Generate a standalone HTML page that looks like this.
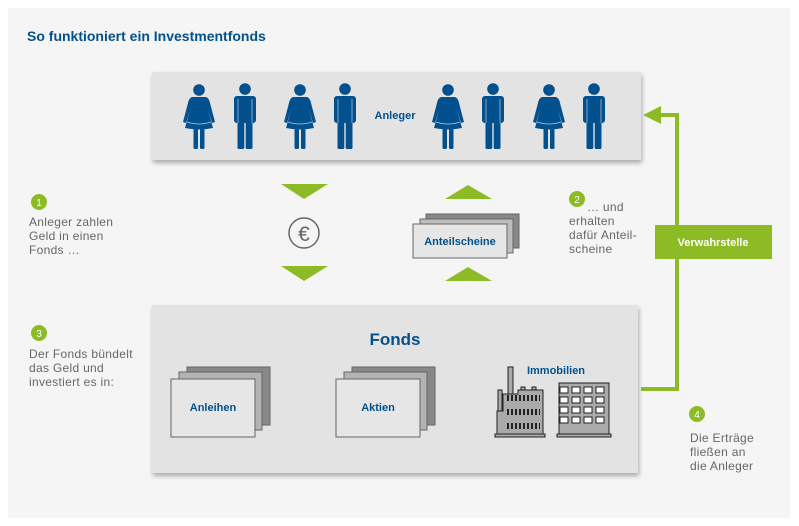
<!DOCTYPE html>
<html><head><meta charset="utf-8"><style>
body{margin:0;background:#fff;}
svg{display:block;font-family:"Liberation Sans",Arial,sans-serif;}
</style></head><body>
<svg width="799" height="526" viewBox="0 0 799 526" xmlns="http://www.w3.org/2000/svg">
<defs>
<filter id="sh" x="-5%" y="-10%" width="110%" height="125%"><feDropShadow dx="1" dy="3" stdDeviation="2.5" flood-color="#000" flood-opacity="0.3"/></filter>
<g id="w" fill="#03508f">
<circle cx="0" cy="90" r="5.8"/>
<path d="M-7 97 L7 97 Q10 98 11 103 L16 122 L13 123 L9 110 L14 128 Q0 131 -14 128 L-9 110 L-13 123 L-16 122 L-11 103 Q-10 98 -7 97Z"/>
<rect x="-5.5" y="127" width="4.5" height="22" rx="1.5"/><rect x="1" y="127" width="4.5" height="22" rx="1.5"/>
<path d="M-12 122 Q0 126 12 122" stroke="#b8c8dc" stroke-width="0.8" fill="none"/>
</g>
<g id="m" fill="#03508f">
<circle cx="0" cy="89" r="5.8"/>
<rect x="-11" y="96" width="22" height="27" rx="3"/>
<rect x="-7.5" y="120" width="6.8" height="29" rx="1.5"/><rect x="0.7" y="120" width="6.8" height="29" rx="1.5"/>
<path d="M-7 99 V123 M7 99 V123" stroke="#b8c8dc" stroke-width="0.7"/>
</g>
</defs>
<rect x="0" y="0" width="799" height="526" fill="#fff"/>
<rect x="8" y="8" width="782" height="510" fill="#f5f5f5"/>
<text x="27" y="41" font-size="14" font-weight="bold" fill="#03508f">So funktioniert ein Investmentfonds</text>

<rect x="152" y="72" width="489" height="88" fill="#e3e3e3" filter="url(#sh)"/>
<use href="#w" x="199"/><use href="#m" x="245"/><use href="#w" x="300"/><use href="#m" x="345"/>
<use href="#w" x="448"/><use href="#m" x="493"/><use href="#w" x="549"/><use href="#m" x="594"/>
<text x="395" y="119" font-size="11" font-weight="bold" fill="#03508f" text-anchor="middle">Anleger</text>

<g fill="#8cbb26">
<polygon points="281,184 328,184 304,199"/><polygon points="281,266 328,266 304,281"/>
<polygon points="445,199 492,199 468,185"/><polygon points="445,281 492,281 468,267"/>
</g>
<circle cx="304" cy="233" r="15" fill="none" stroke="#666" stroke-width="1.5"/>
<text x="304" y="241" font-size="21" fill="#666" text-anchor="middle">€</text>

<rect x="426" y="214" width="93" height="34" fill="#888" stroke="#666"/>
<rect x="420" y="219" width="93" height="34" fill="#bdbdbd" stroke="#666"/>
<rect x="413" y="224" width="94" height="34" fill="#e6e6e6" stroke="#666"/>
<text x="460" y="245" font-size="11" font-weight="bold" fill="#03508f" text-anchor="middle">Anteilscheine</text>

<g font-size="12" fill="#666" letter-spacing="0.3">
<circle cx="39" cy="202" r="8" fill="#8cbb26"/><text x="39" y="206" font-size="10" fill="#fff" text-anchor="middle" letter-spacing="0">1</text>
<text x="29" y="226">Anleger zahlen</text><text x="29" y="240">Geld in einen</text><text x="29" y="254">Fonds …</text>
<circle cx="39" cy="333" r="8" fill="#8cbb26"/><text x="39" y="337" font-size="10" fill="#fff" text-anchor="middle" letter-spacing="0">3</text>
<text x="29" y="358">Der Fonds bündelt</text><text x="29" y="372">das Geld und</text><text x="29" y="386">investiert es in:</text>
<circle cx="577" cy="199" r="8" fill="#8cbb26"/><text x="577" y="203" font-size="10" fill="#fff" text-anchor="middle" letter-spacing="0">2</text>
<text x="587" y="211">… und</text><text x="569" y="225">erhalten</text><text x="569" y="239">dafür Anteil-</text><text x="569" y="253">scheine</text>
<circle cx="697" cy="414" r="8" fill="#8cbb26"/><text x="697" y="418" font-size="10" fill="#fff" text-anchor="middle" letter-spacing="0">4</text>
<text x="690" y="442">Die Erträge</text><text x="690" y="456">fließen an</text><text x="690" y="470">die Anleger</text>
</g>

<rect x="152" y="305" width="486" height="168" fill="#e3e3e3" filter="url(#sh)"/>
<text x="395" y="345" font-size="17" font-weight="bold" fill="#03508f" text-anchor="middle">Fonds</text>
<rect x="187" y="367" width="83" height="58" fill="#888" stroke="#666"/>
<rect x="179" y="372" width="83" height="58" fill="#b3b3b3" stroke="#666"/>
<rect x="171" y="379" width="84" height="58" fill="#e6e6e6" stroke="#666"/>
<text x="213" y="411" font-size="11" font-weight="bold" fill="#03508f" text-anchor="middle">Anleihen</text>
<rect x="352" y="367" width="83" height="58" fill="#888" stroke="#666"/>
<rect x="344" y="372" width="83" height="58" fill="#b3b3b3" stroke="#666"/>
<rect x="336" y="379" width="84" height="58" fill="#e6e6e6" stroke="#666"/>
<text x="378" y="411" font-size="11" font-weight="bold" fill="#03508f" text-anchor="middle">Aktien</text>
<text x="556" y="374" font-size="11" font-weight="bold" fill="#03508f" text-anchor="middle">Immobilien</text>
<g stroke="#222" stroke-width="1" fill="#aaa">
<rect x="498" y="390" width="4" height="22"/>
<rect x="508" y="367" width="5" height="27"/>
<rect x="521" y="387" width="4" height="4"/><rect x="532" y="387" width="4" height="4"/>
<path d="M497 411 H503 V394 H518 V390 H543 V434 H497 Z"/>
<rect x="495" y="434" width="50" height="3"/>
<rect x="559" y="383" width="50" height="51"/>
<rect x="557" y="434" width="54" height="3"/>
</g>
<g fill="#fff" stroke="#222">
<rect x="560" y="387" width="8" height="6"/><rect x="572" y="387" width="8" height="6"/><rect x="584" y="387" width="8" height="6"/><rect x="596" y="387" width="8" height="6"/>
<rect x="560" y="397" width="8" height="6"/><rect x="572" y="397" width="8" height="6"/><rect x="584" y="397" width="8" height="6"/><rect x="596" y="397" width="8" height="6"/>
<rect x="560" y="407" width="8" height="6"/><rect x="572" y="407" width="8" height="6"/><rect x="584" y="407" width="8" height="6"/><rect x="596" y="407" width="8" height="6"/>
<rect x="560" y="417" width="8" height="6"/><rect x="572" y="417" width="8" height="6"/><rect x="584" y="417" width="8" height="6"/><rect x="596" y="417" width="8" height="6"/>
</g>
<g stroke="#222" stroke-width="1.5">
<path d="M507 398 H540 M507 412 H540 M507 426 H540" stroke-width="6" stroke-dasharray="2 2"/>
</g>

<path d="M641 389 H677 V115 H656" fill="none" stroke="#8cbb26" stroke-width="4"/>
<polygon points="643,115 661,106 661,124" fill="#8cbb26"/>
<rect x="655" y="225" width="117" height="34" fill="#8cbb26"/>
<text x="713" y="246" font-size="11" font-weight="bold" fill="#fff" text-anchor="middle">Verwahrstelle</text>
</svg>
</body></html>
